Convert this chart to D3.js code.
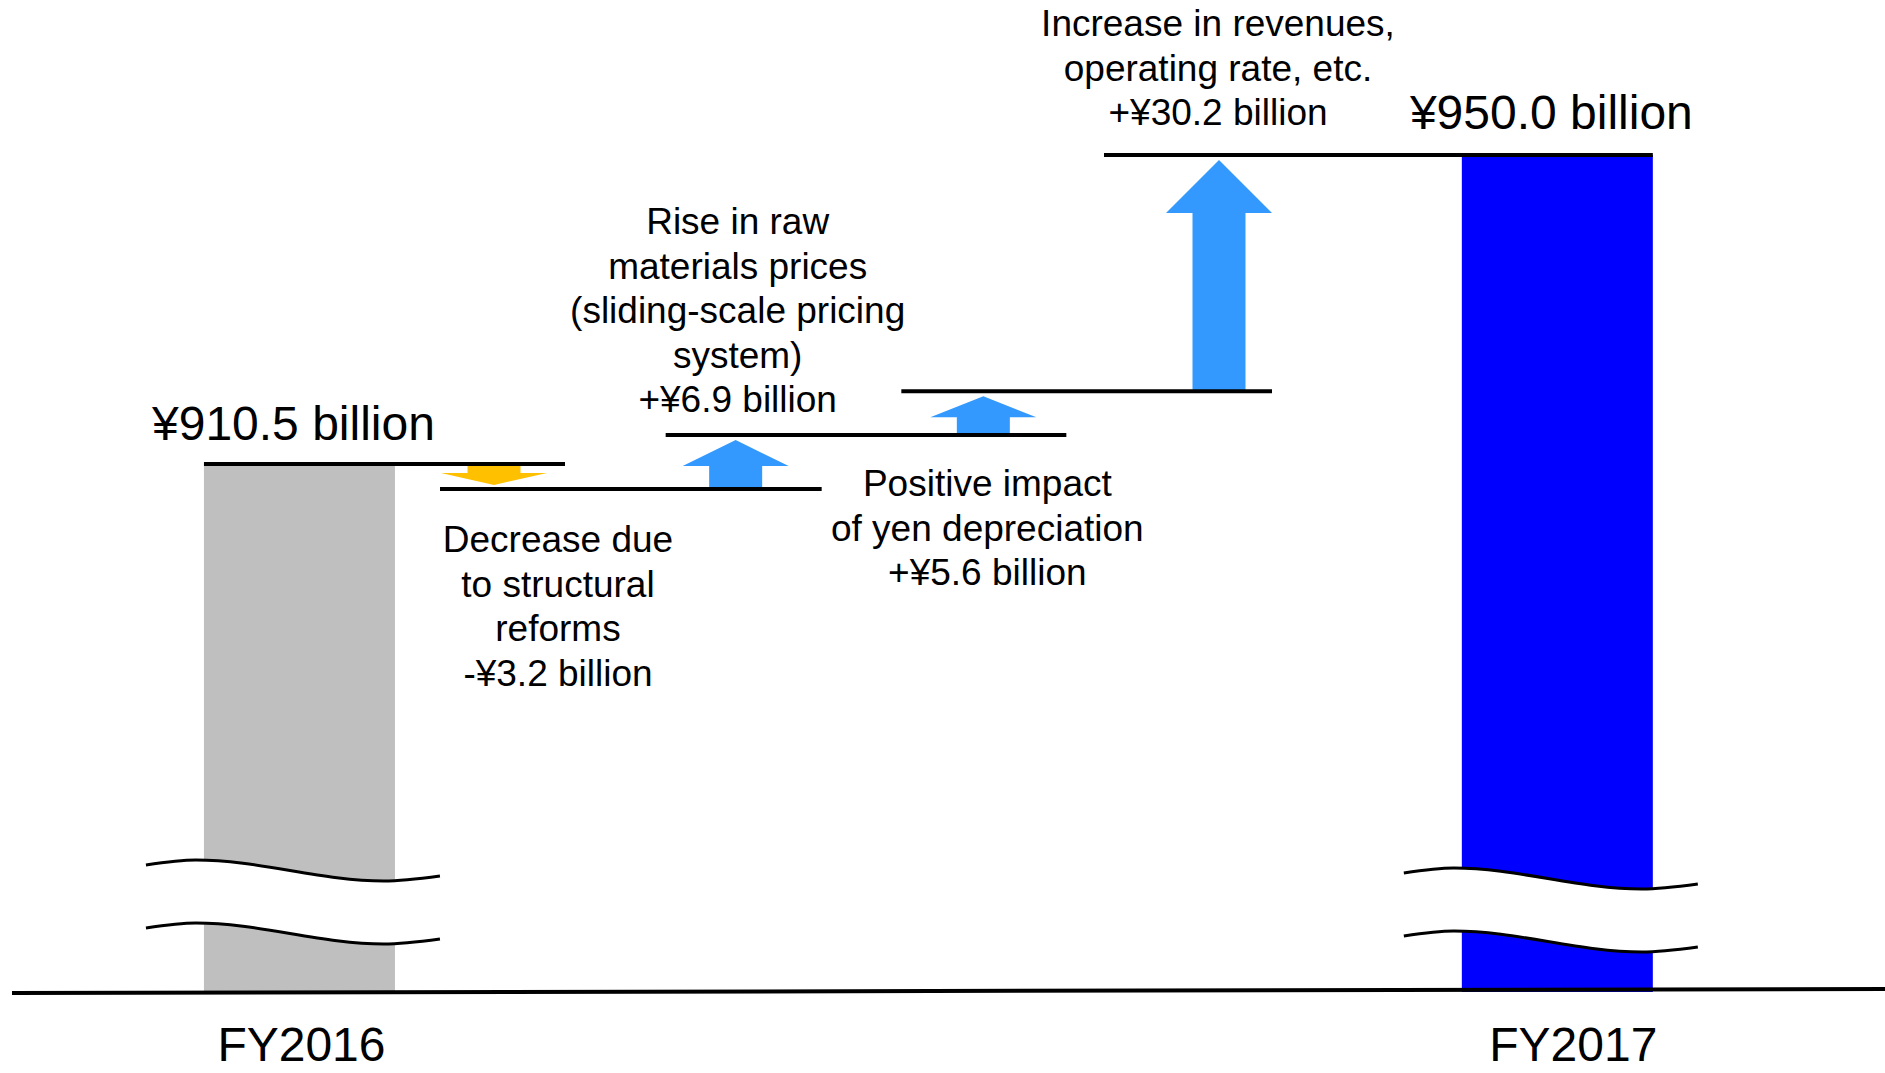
<!DOCTYPE html>
<html>
<head>
<meta charset="utf-8">
<script src="https://cdn.jsdelivr.net/npm/d3@7/dist/d3.min.js"></script>
<style>
  html, body { margin: 0; padding: 0; background: #ffffff; }
  svg { display: block; }
  text { font-family: "Liberation Sans", Arial, Helvetica, sans-serif; fill: #000; }
</style>
</head>
<body>
<svg id="chart" width="1885" height="1073"></svg>
<script>
// ---------------- DATA ----------------
const periods = ["FY2016", "FY2017"];
const totals = [910.5, 950.0];
const steps = ["structural", "rawMaterials", "yen", "revenues"];
const changes = [-3.2, 6.9, 5.6, 30.2];
const stepTexts = [
  ["Decrease due", "to structural", "reforms"],
  ["Rise in raw", "materials prices", "(sliding-scale pricing", "system)"],
  ["Positive impact", "of yen depreciation"],
  ["Increase in revenues,", "operating rate, etc."]
];

// ---------------- LAYOUT ----------------
const W = 1885, H = 1073;
const svg = d3.select("#chart");
const fmt = d3.format(".1f");
const amountText = v => (v < 0 ? "-" : "+") + "¥" + fmt(Math.abs(v)) + " billion";
const totalText = v => "¥" + fmt(v) + " billion";

const y = d3.scaleLinear().domain([907.3, 950.0]).range([489, 155]);
const xp = d3.scalePoint().domain(steps).range([494, 1219]);
const stepDx = [0, 0, 6, 0];
const x = s => xp(s) + stepDx[steps.indexOf(s)];
const st = xp.step();
const barCenter = [xp(steps[0]) - 0.805 * st, xp(steps[steps.length - 1]) + 1.40 * st];
const barW = 191;
const baseY0 = 993, baseY1 = 989;
const barBottom = 992;

const colors = { start: "#bfbfbf", end: "#0000ff", up: "#3399ff", down: "#ffc000" };

// cumulative levels
const levels = [totals[0]];
changes.forEach(c => levels.push(+(levels[levels.length - 1] + c).toFixed(1)));

// ---------------- BARS ----------------
svg.selectAll("rect.bar").data(totals).enter().append("rect")
  .attr("class", "bar")
  .attr("x", (d, i) => barCenter[i] - barW / 2)
  .attr("width", barW)
  .attr("y", d => y(d))
  .attr("height", d => barBottom - y(d))
  .attr("fill", (d, i) => i === 0 ? colors.start : colors.end);

// ---------------- BREAK MARKS ----------------
const breakTop = [865, 873];
const gap = 63;
const waveLine = d3.line().x(p => p[0]).y(p => p[1]).curve(d3.curveMonotoneX);
const waveArea = d3.area().x(p => p[0]).y0(p => p[1] + gap).y1(p => p[1]).curve(d3.curveMonotoneX);
totals.forEach((d, i) => {
  const l = barCenter[i] - barW / 2, r = barCenter[i] + barW / 2, t = breakTop[i];
  const pts = [[l - 58, t], [l - 8, t - 5], [r - 11, t + 16], [r + 45, t + 11]];
  svg.append("path").attr("d", waveArea(pts)).attr("fill", "#fff");
  [0, gap].forEach(off => {
    svg.append("path")
      .attr("d", waveLine(pts.map(p => [p[0], p[1] + off])))
      .attr("fill", "none").attr("stroke", "#000").attr("stroke-width", 3);
  });
});

// ---------------- ARROWS ----------------
const shaftW = 53, headW = 106;
changes.forEach((c, i) => {
  const cx = x(steps[i]);
  const a = y(levels[i]), b = y(levels[i + 1]);
  const top = Math.min(a, b), bot = Math.max(a, b);
  const span = bot - top;
  const headH = Math.min(53, 0.48 * span);
  let pts;
  if (c > 0) {
    const tip = top + 5, base = tip + headH;
    pts = [[cx - shaftW / 2, bot], [cx - shaftW / 2, base], [cx - headW / 2, base], [cx, tip],
           [cx + headW / 2, base], [cx + shaftW / 2, base], [cx + shaftW / 2, bot]];
  } else {
    const tip = bot - 4, base = tip - headH;
    pts = [[cx - shaftW / 2, top], [cx - shaftW / 2, base], [cx - headW / 2, base], [cx, tip],
           [cx + headW / 2, base], [cx + shaftW / 2, base], [cx + shaftW / 2, top]];
  }
  svg.append("path")
    .attr("d", d3.line()(pts) + "Z")
    .attr("fill", c > 0 ? colors.up : colors.down);
});

// ---------------- LEVEL LINES ----------------
const leftPad = [0, 54, 70, 82, 115];
const rightPad = [71, 86, 83, 53, 0];
levels.forEach((v, i) => {
  const x1 = i === 0 ? barCenter[0] - barW / 2 : x(steps[i - 1]) - leftPad[i];
  const x2 = i === levels.length - 1 ? barCenter[1] + barW / 2 : x(steps[i]) + rightPad[i];
  svg.append("line")
    .attr("x1", x1).attr("x2", x2)
    .attr("y1", y(v)).attr("y2", y(v))
    .attr("stroke", "#000").attr("stroke-width", 4);
});

// ---------------- BASELINE ----------------
svg.append("line")
  .attr("x1", 12).attr("y1", baseY0).attr("x2", W).attr("y2", baseY1)
  .attr("stroke", "#000").attr("stroke-width", 4);

// ---------------- TOTAL LABELS ----------------
totals.forEach((v, i) => {
  svg.append("text")
    .attr("x", barCenter[i] - 6)
    .attr("y", y(v) - (i === 0 ? 24 : 26))
    .attr("text-anchor", "middle")
    .attr("font-size", 48)
    .text(totalText(v));
});

// ---------------- PERIOD LABELS ----------------
const periodDx = [2, 16];
periods.forEach((p, i) => {
  svg.append("text")
    .attr("x", barCenter[i] + periodDx[i])
    .attr("y", 1061)
    .attr("text-anchor", "middle")
    .attr("font-size", 48)
    .text(p);
});

// ---------------- STEP LABELS ----------------
const labelDx = [64, 2, 4, -1];
const labelPos = ["below", "above", "below", "above"];
const lineH = 44.5;
changes.forEach((c, i) => {
  const lines = stepTexts[i].concat([amountText(c)]);
  const cx = x(steps[i]) + labelDx[i];
  const lo = Math.max(y(levels[i]), y(levels[i + 1]));
  const hi = Math.min(y(levels[i]), y(levels[i + 1]));
  let firstBase;
  if (labelPos[i] === "below") firstBase = lo + (i === 2 ? 61 : 63);
  else firstBase = hi - (i === 3 ? 30 : 23) - lineH * (lines.length - 1);
  const t = svg.append("text")
    .attr("text-anchor", "middle")
    .attr("font-size", 37);
  lines.forEach((s, k) => {
    t.append("tspan").attr("x", cx).attr("y", firstBase + k * lineH).text(s);
  });
});
</script>
</body>
</html>
